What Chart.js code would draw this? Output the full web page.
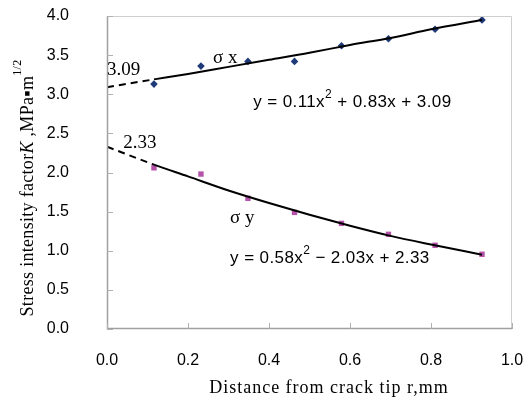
<!DOCTYPE html>
<html>
<head>
<meta charset="utf-8">
<script src="https://cdn.jsdelivr.net/npm/chart.js@4"></script>
<style>
  html, body { margin: 0; padding: 0; background: #fff; }
  #wrap { width: 529px; height: 401px; }
</style>
</head>
<body>
<div id="wrap"><canvas id="chart"></canvas></div>
<script>
// measured points
const distances = [0.116, 0.232, 0.348, 0.463, 0.579, 0.695, 0.810, 0.926];
const sigmaX = [3.13, 3.36, 3.42, 3.42, 3.62, 3.71, 3.83, 3.95];
const sigmaY = [2.06, 1.98, 1.67, 1.49, 1.35, 1.21, 1.07, 0.955];

// trend lines (dashed before the first point)
const trendX = [0, 0.116, 0.2, 0.3, 0.4, 0.5, 0.6, 0.7, 0.8, 0.926];
const sigmaXTrend = [3.09, 3.19, 3.26, 3.35, 3.44, 3.53, 3.63, 3.72, 3.83, 3.95];
const sigmaYTrend = [2.33, 2.10, 1.95, 1.77, 1.61, 1.46, 1.32, 1.19, 1.08, 0.95];

const xTicks = [0, 0.2, 0.4, 0.6, 0.8, 1.0];
const yTicks = [0, 0.5, 1.0, 1.5, 2.0, 2.5, 3.0, 3.5, 4.0];

const serif = "19px 'Liberation Serif'";
const notes = [
  { text: "3.09", x: 0.0, y: 3.25 },
  { text: "2.33", x: 0.04, y: 2.31 },
  { text: "σ x", x: 0.262, y: 3.40 },
  { text: "σ y", x: 0.304, y: 1.36 }
];

const toXY = (xs, ys) => xs.map((x, i) => ({ x: x, y: ys[i] }));
const dashBefore = (ctx) => ctx.p1.parsed.x <= 0.117 ? [7, 5] : undefined;

// equation text with a superscript 2
function drawEquation(ctx, x, y, parts) {
  ctx.textBaseline = "alphabetic";
  ctx.textAlign = "left";
  ctx.letterSpacing = "0.4px";
  parts.forEach(p => {
    if (p.sup) {
      ctx.font = "12px 'Liberation Sans'";
      ctx.fillText(p.t, x, y - 9);
    } else {
      ctx.font = "17px 'Liberation Sans'";
      ctx.fillText(p.t, x, y);
    }
    x += ctx.measureText(p.t).width;
  });
  ctx.letterSpacing = "0px";
}

const extras = {
  id: "extras",
  afterDraw(chart) {
    const ctx = chart.ctx;
    const xs = chart.scales.x, ys = chart.scales.y;
    const a = chart.chartArea;
    ctx.save();
    // frame
    ctx.lineWidth = 1;
    ctx.strokeStyle = "#cfcfcf";
    ctx.beginPath();
    ctx.moveTo(a.left, a.top + 0.5); ctx.lineTo(a.right - 0.5, a.top + 0.5); ctx.lineTo(a.right - 0.5, a.bottom);
    ctx.stroke();
    ctx.strokeStyle = "#a0a0a0";
    ctx.lineWidth = 1.5;
    ctx.beginPath();
    ctx.moveTo(a.left + 0.5, a.top); ctx.lineTo(a.left + 0.5, a.bottom - 0.5); ctx.lineTo(a.right, a.bottom - 0.5);
    ctx.stroke();
    // inner tick marks
    ctx.lineWidth = 1;
    ctx.strokeStyle = "#b0b0b0";
    ctx.beginPath();
    yTicks.forEach(v => {
      const py = Math.round(ys.getPixelForValue(v)) + 0.5;
      ctx.moveTo(a.left, py); ctx.lineTo(a.left + 6, py);
    });
    xTicks.forEach(v => {
      const px = Math.round(xs.getPixelForValue(v)) + 0.5;
      ctx.moveTo(px, a.bottom); ctx.lineTo(px, a.bottom - 6);
    });
    ctx.stroke();

    ctx.fillStyle = "#000";
    notes.forEach(n => {
      ctx.font = serif;
      ctx.textAlign = "left";
      ctx.textBaseline = "alphabetic";
      ctx.fillText(n.text, xs.getPixelForValue(n.x), ys.getPixelForValue(n.y));
    });
    drawEquation(ctx, xs.getPixelForValue(0.361), ys.getPixelForValue(2.84),
      [{ t: "y = 0.11x" }, { t: "2", sup: true }, { t: " + 0.83x + 3.09" }]);
    drawEquation(ctx, xs.getPixelForValue(0.304), ys.getPixelForValue(0.84),
      [{ t: "y = 0.58x" }, { t: "2", sup: true }, { t: " \u2212 2.03x + 2.33" }]);

    // axis titles
    ctx.font = "18px 'Liberation Serif'";
    ctx.letterSpacing = "1px";
    ctx.textAlign = "center";
    ctx.textBaseline = "middle";
    ctx.fillText("Distance from crack tip r,mm", 329, 388);

    ctx.letterSpacing = "0.3px";
    ctx.translate(28, 188);
    ctx.rotate(-Math.PI / 2);
    const pieces = [
      { t: "Stress intensity factor", f: "18px 'Liberation Serif'" },
      { t: "K", f: "italic 18px 'Liberation Serif'" },
      { t: " ,MPa\u25AAm", f: "18px 'Liberation Serif'" },
      { t: "1/2", f: "12px 'Liberation Serif'", sup: true }
    ];
    let total = 0;
    pieces.forEach(p => { ctx.font = p.f; total += ctx.measureText(p.t).width; });
    let px = -total / 2;
    ctx.textAlign = "left";
    pieces.forEach(p => {
      ctx.font = p.f;
      ctx.fillText(p.t, px, p.sup ? -10 : 0);
      px += ctx.measureText(p.t).width;
    });
    ctx.restore();
  }
};

// hidden tick marks push the labels away from the axis
const hiddenTicks = (len) => ({
  display: true, drawOnChartArea: false, drawTicks: true,
  tickLength: len, tickColor: "rgba(0,0,0,0)"
});

new Chart(document.getElementById("chart"), {
  type: "scatter",
  data: {
    datasets: [
      {
        label: "σx fit",
        type: "line",
        data: toXY(trendX, sigmaXTrend),
        borderColor: "#000",
        borderWidth: 2,
        pointRadius: 0,
        cubicInterpolationMode: "monotone",
        segment: { borderDash: dashBefore }
      },
      {
        label: "σy fit",
        type: "line",
        data: toXY(trendX, sigmaYTrend),
        borderColor: "#000",
        borderWidth: 2,
        pointRadius: 0,
        cubicInterpolationMode: "monotone",
        segment: { borderDash: dashBefore }
      },
      {
        label: "σx",
        data: toXY(distances, sigmaX),
        pointStyle: "rectRot",
        pointRadius: 3.8,
        backgroundColor: "#1f3a78",
        borderColor: "#1f3a78",
        borderWidth: 0
      },
      {
        label: "σy",
        data: toXY(distances, sigmaY),
        pointStyle: "rect",
        pointRadius: 3.8,
        backgroundColor: "#b552a9",
        borderColor: "#b552a9",
        borderWidth: 0
      }
    ]
  },
  options: {
    responsive: true,
    maintainAspectRatio: false,
    animation: false,
    layout: { padding: { top: 16, right: 17, left: 0, bottom: 0 } },
    plugins: { legend: { display: false }, tooltip: { enabled: false } },
    scales: {
      x: {
        type: "linear",
        min: 0, max: 1,
        afterBuildTicks: (s) => { s.ticks = xTicks.map(v => ({ value: v })); },
        afterFit: (s) => { s.height = 72; },
        grid: hiddenTicks(22),
        border: { display: false },
        ticks: {
          padding: 0,
          color: "#000",
          font: { family: "'Liberation Sans'", size: 16 },
          callback: (v) => v.toFixed(1)
        }
      },
      y: {
        type: "linear",
        min: 0, max: 4,
        afterBuildTicks: (s) => { s.ticks = yTicks.map(v => ({ value: v })); },
        afterFit: (s) => { s.width = 107; },
        grid: hiddenTicks(38),
        border: { display: false },
        ticks: {
          padding: 0,
          color: "#000",
          font: { family: "'Liberation Sans'", size: 16 },
          callback: (v) => v.toFixed(1)
        }
      }
    }
  },
  plugins: [extras]
});
</script>
</body>
</html>
